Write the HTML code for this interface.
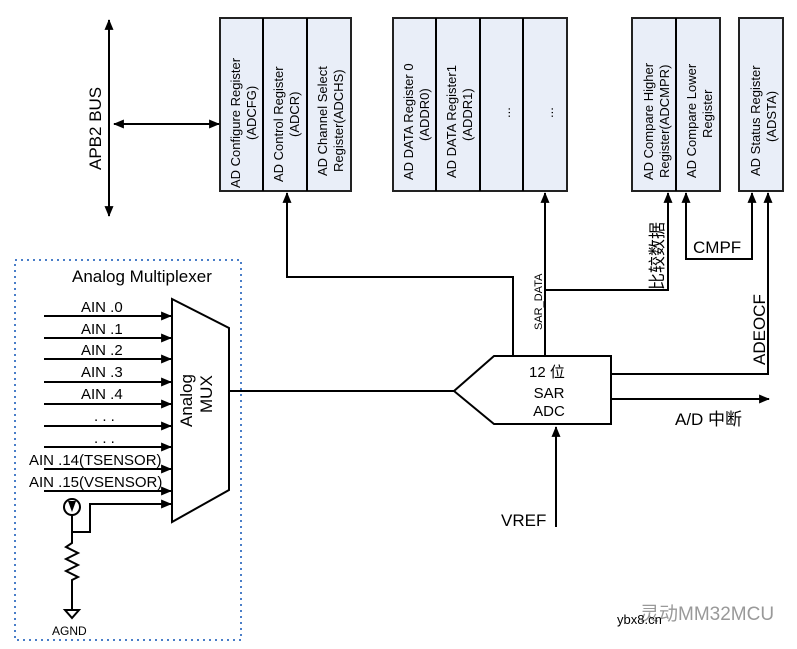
<!DOCTYPE html>
<html><head><meta charset="utf-8"><style>
html,body{margin:0;padding:0;background:#fff;width:797px;height:649px;overflow:hidden}
svg{display:block}
text{font-family:"Liberation Sans","Noto Sans CJK SC",sans-serif;fill:#000}
.reg{fill:#e9eef8;stroke:#222;stroke-width:2}
.ln{stroke:#000;stroke-width:2;fill:none}
.n{font-family:"Liberation Sans Narrow","Liberation Sans","Noto Sans CJK SC",sans-serif}
</style></head><body>
<svg width="797" height="649" viewBox="0 0 797 649" xmlns="http://www.w3.org/2000/svg">
<defs>
<marker id="s" viewBox="0 0 12 10" refX="11" refY="5" markerWidth="12" markerHeight="9" orient="auto-start-reverse" markerUnits="userSpaceOnUse"><path d="M0,0 L12,5 L0,10 z" fill="#000"/></marker>
</defs>
<!-- Registers -->
<rect class="reg" x="220" y="18" width="131" height="173"/>
<line class="ln" x1="263" y1="18" x2="263" y2="191"/><line class="ln" x1="307" y1="18" x2="307" y2="191"/>
<rect class="reg" x="393" y="18" width="174" height="173"/>
<line class="ln" x1="436" y1="18" x2="436" y2="191"/><line class="ln" x1="480" y1="18" x2="480" y2="191"/><line class="ln" x1="523" y1="18" x2="523" y2="191"/>
<rect class="reg" x="632" y="18" width="88" height="173"/>
<line class="ln" x1="676" y1="18" x2="676" y2="191"/>
<rect class="reg" x="739" y="18" width="44" height="173"/>
<g font-size="13">
<text transform="translate(240,188) rotate(-90)">AD Configure Register</text>
<text transform="translate(256,140) rotate(-90)">(ADCFG)</text>
<text transform="translate(283,182) rotate(-90)">AD Control Register</text>
<text transform="translate(299,137) rotate(-90)">(ADCR)</text>
<text transform="translate(327,176) rotate(-90)">AD Channel Select</text>
<text transform="translate(343,172) rotate(-90)">Register(ADCHS)</text>
<text transform="translate(413,180) rotate(-90)">AD DATA Register 0</text>
<text transform="translate(429,141) rotate(-90)">(ADDR0)</text>
<text transform="translate(456,178) rotate(-90)">AD DATA Register1</text>
<text transform="translate(472,141) rotate(-90)">(ADDR1)</text>
<text transform="translate(510,118) rotate(-90)">...</text>
<text transform="translate(553,118) rotate(-90)">...</text>
<text transform="translate(653,180) rotate(-90)">AD Compare Higher</text>
<text transform="translate(669,178) rotate(-90)">Register(ADCMPR)</text>
<text transform="translate(696,178) rotate(-90)">AD Compare Lower</text>
<text transform="translate(712,138) rotate(-90)">Register</text>
<text transform="translate(760,176) rotate(-90)">AD Status Register</text>
<text transform="translate(776,142) rotate(-90)">(ADSTA)</text>
</g>
<!-- Bus -->
<line class="ln" x1="109" y1="20" x2="109" y2="216" marker-start="url(#s)" marker-end="url(#s)"/>
<line class="ln" x1="114" y1="124" x2="219" y2="124" marker-start="url(#s)" marker-end="url(#s)"/>
<text font-size="17" transform="translate(101,170) rotate(-90)">APB2 BUS</text>
<!-- Connectors above ADC -->
<polyline class="ln" points="513,356 513,277 287,277 287,193" marker-end="url(#s)"/>
<line class="ln" x1="545" y1="356" x2="545" y2="193" marker-end="url(#s)"/>
<polyline class="ln" points="545,290 668,290 668,193" marker-end="url(#s)"/>
<polyline class="ln" points="686,193 686,259 752,259 752,193" marker-start="url(#s)" marker-end="url(#s)"/>
<polyline class="ln" points="611,374 768,374 768,193" marker-end="url(#s)"/>
<text font-size="11" transform="translate(542,330) rotate(-90)">SAR_DATA</text>
<text font-size="17" transform="translate(663,290) rotate(-90)">比较数据</text>
<text class="n" font-size="17" x="693" y="253">CMPF</text>
<text font-size="17" transform="translate(765,365) rotate(-90)">ADEOCF</text>
<!-- ADC -->
<polygon points="454,391 494,356 611,356 611,424 494,424" fill="#fff" stroke="#000" stroke-width="2"/>
<text class="n" font-size="15" x="529" y="377">12 位</text>
<text class="n" font-size="15" x="549" y="398" text-anchor="middle">SAR</text>
<text class="n" font-size="15" x="549" y="416" text-anchor="middle">ADC</text>
<line class="ln" x1="611" y1="399" x2="769" y2="399" marker-end="url(#s)"/>
<text font-size="17" x="675" y="425">A/D 中断</text>
<line class="ln" x1="556" y1="527" x2="556" y2="427" marker-end="url(#s)"/>
<text class="n" font-size="17" x="501" y="526">VREF</text>
<!-- Mux box -->
<rect x="15" y="260" width="226" height="380" fill="none" stroke="#4a7ec8" stroke-width="2" stroke-dasharray="2,4"/>
<text font-size="17" x="72" y="282">Analog Multiplexer</text>
<polygon points="172,299 229,328 229,490 172,522" fill="#fff" stroke="#000" stroke-width="2"/>
<text font-size="17" transform="translate(192,427) rotate(-90)">Analog</text>
<text font-size="17" transform="translate(212,413) rotate(-90)">MUX</text>
<line class="ln" x1="229" y1="391" x2="454" y2="391"/>
<g stroke="#000" stroke-width="2" fill="none">
<line x1="44" y1="316" x2="171" y2="316" marker-end="url(#s)"/>
<line x1="44" y1="338" x2="171" y2="338" marker-end="url(#s)"/>
<line x1="44" y1="359" x2="171" y2="359" marker-end="url(#s)"/>
<line x1="44" y1="382" x2="171" y2="382" marker-end="url(#s)"/>
<line x1="44" y1="404" x2="171" y2="404" marker-end="url(#s)"/>
<line x1="44" y1="426" x2="171" y2="426" marker-end="url(#s)"/>
<line x1="44" y1="447" x2="171" y2="447" marker-end="url(#s)"/>
<line x1="44" y1="469" x2="171" y2="469" marker-end="url(#s)"/>
<line x1="44" y1="491" x2="171" y2="491" marker-end="url(#s)"/>
<polyline points="72,515 72,532 90,532 90,504 171,504" marker-end="url(#s)"/>
<circle cx="72" cy="507" r="8"/>
<polyline points="72,532 72,543 66,547 78,553 66,559 78,565 66,571 78,577 72,580 72,610"/>
<polygon points="65,610 79,610 72,618"/>
</g>
<path d="M68,501 L76,501 L72,512 z" fill="#000"/>
<g class="n" font-size="15">
<text x="81" y="312">AIN .0</text>
<text x="81" y="334">AIN .1</text>
<text x="81" y="355">AIN .2</text>
<text x="81" y="377">AIN .3</text>
<text x="81" y="399">AIN .4</text>
<text x="94" y="421">. . .</text>
<text x="94" y="443">. . .</text>
<text x="29" y="465">AIN .14(TSENSOR)</text>
<text x="29" y="487">AIN .15(VSENSOR)</text>
</g>
<text class="n" font-size="12" x="52" y="635">AGND</text>
<text font-size="19" x="640" y="620" style="fill:#999">灵动MM32MCU</text>
<text font-size="13" x="617" y="624">ybx8.cn</text>
</svg>
</body></html>
